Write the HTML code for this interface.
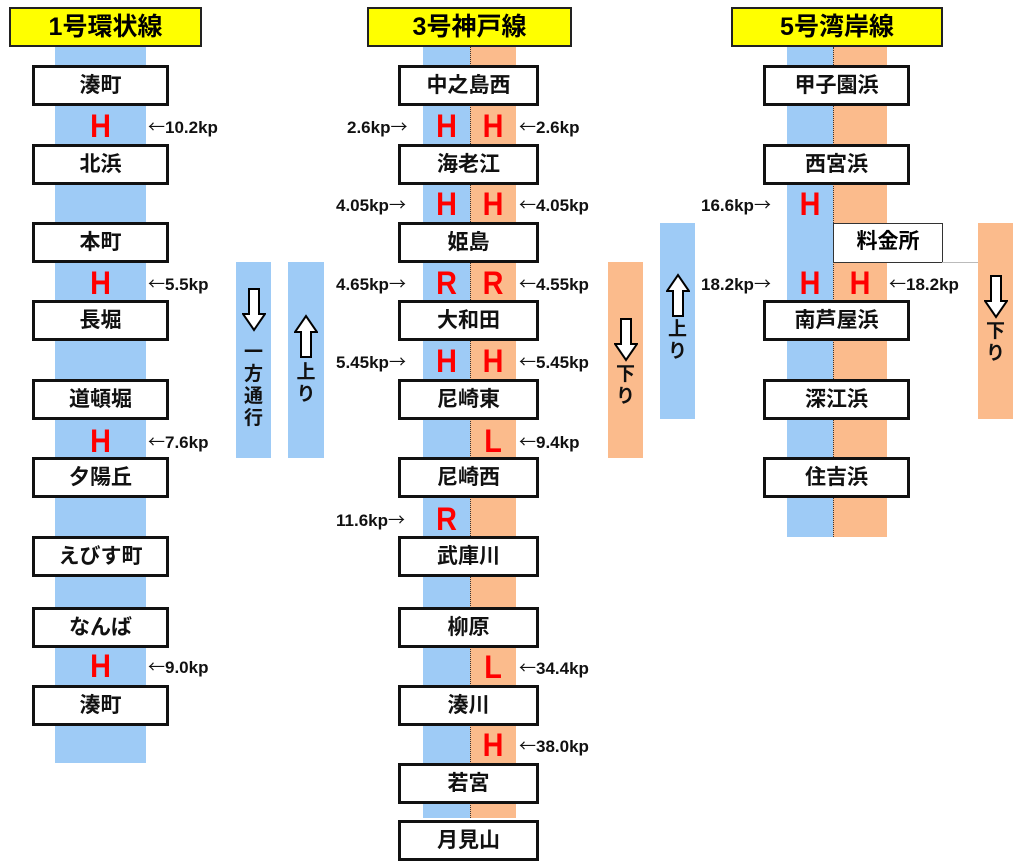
<!DOCTYPE html>
<html><head><meta charset="utf-8"><style>
body{margin:0;width:1023px;height:868px;background:#fff;position:relative;overflow:hidden;font-family:"Liberation Sans","Noto Sans CJK JP",sans-serif;font-weight:bold}
div{position:absolute;box-sizing:border-box}
.t{background:#ffff00;border:2px solid #222;font-size:25px;text-align:center;line-height:36px;height:40px;top:7px}
.b{background:#9ecbf6}
.o{background:#fbbb8c}
.dl{border-left:1px dotted #333}
.s{background:#fff;border:3px solid #111;height:41px;font-size:21px;text-align:center;line-height:35px;color:#111}
.h{color:#f00;font-size:32px;line-height:30px;text-align:center;font-family:"Liberation Sans",sans-serif;font-weight:bold;transform:scaleX(0.9)}
.k{font-size:17px;line-height:16px;color:#111;white-space:nowrap}
.k i{font-style:normal;font-family:"Noto Sans CJK JP",sans-serif;font-weight:normal}
.v{font-size:19px;text-align:center;line-height:22px;color:#111}
</style></head><body>
<!-- line 1 -->
<div class="t" style="left:9px;width:193px">1号環状線</div>
<div class="b" style="left:55px;width:91px;top:47px;height:716px"></div>
<div class="s" style="left:32px;width:137px;top:65px">湊町</div>
<div class="s" style="left:32px;width:137px;top:144px">北浜</div>
<div class="s" style="left:32px;width:137px;top:222px">本町</div>
<div class="s" style="left:32px;width:137px;top:300px">長堀</div>
<div class="s" style="left:32px;width:137px;top:379px">道頓堀</div>
<div class="s" style="left:32px;width:137px;top:457px">夕陽丘</div>
<div class="s" style="left:32px;width:137px;top:536px">えびす町</div>
<div class="s" style="left:32px;width:137px;top:607px">なんば</div>
<div class="s" style="left:32px;width:137px;top:685px">湊町</div>
<div class="h" style="left:55px;width:91px;top:111px">H</div>
<div class="h" style="left:55px;width:91px;top:268px">H</div>
<div class="h" style="left:55px;width:91px;top:426px">H</div>
<div class="h" style="left:55px;width:91px;top:651px">H</div>
<div class="k" style="left:148px;top:118px"><i>←</i>10.2kp</div>
<div class="k" style="left:148px;top:275px"><i>←</i>5.5kp</div>
<div class="k" style="left:148px;top:433px"><i>←</i>7.6kp</div>
<div class="k" style="left:148px;top:658px"><i>←</i>9.0kp</div>
<div class="b" style="left:236px;width:35px;top:262px;height:196px">
<svg style="position:absolute;left:6px;top:26px" width="24" height="44" viewBox="0 0 24 44"><path d="M7 1H17V26H23L12 42L1 26H7Z" fill="#fff" stroke="#000" stroke-width="2"/></svg>
<div class="v" style="left:0;width:35px;top:80px">一<br>方<br>通<br>行</div></div>
<div class="b" style="left:288px;width:36px;top:262px;height:196px">
<svg style="position:absolute;left:6px;top:52px" width="24" height="44" viewBox="0 0 24 44"><path d="M7 43H17V18H23L12 2L1 18H7Z" fill="#fff" stroke="#000" stroke-width="2"/></svg>
<div class="v" style="left:0;width:36px;top:100px">上<br>り</div></div>

<!-- line 3 -->
<div class="t" style="left:367px;width:205px">3号神戸線</div>
<div class="b" style="left:423px;width:47px;top:47px;height:771px"></div>
<div class="o dl" style="left:470px;width:46px;top:47px;height:771px"></div>
<div class="s" style="left:398px;width:141px;top:65px">中之島西</div>
<div class="s" style="left:398px;width:141px;top:144px">海老江</div>
<div class="s" style="left:398px;width:141px;top:222px">姫島</div>
<div class="s" style="left:398px;width:141px;top:300px">大和田</div>
<div class="s" style="left:398px;width:141px;top:379px">尼崎東</div>
<div class="s" style="left:398px;width:141px;top:457px">尼崎西</div>
<div class="s" style="left:398px;width:141px;top:536px">武庫川</div>
<div class="s" style="left:398px;width:141px;top:607px">柳原</div>
<div class="s" style="left:398px;width:141px;top:685px">湊川</div>
<div class="s" style="left:398px;width:141px;top:763px">若宮</div>
<div class="s" style="left:398px;width:141px;top:820px">月見山</div>
<div class="h" style="left:423px;width:47px;top:111px">H</div><div class="h" style="left:470px;width:46px;top:111px">H</div>
<div class="h" style="left:423px;width:47px;top:189px">H</div><div class="h" style="left:470px;width:46px;top:189px">H</div>
<div class="h" style="left:423px;width:47px;top:268px">R</div><div class="h" style="left:470px;width:46px;top:268px">R</div>
<div class="h" style="left:423px;width:47px;top:346px">H</div><div class="h" style="left:470px;width:46px;top:346px">H</div>
<div class="h" style="left:470px;width:46px;top:426px">L</div>
<div class="h" style="left:423px;width:47px;top:504px">R</div>
<div class="h" style="left:470px;width:46px;top:652px">L</div>
<div class="h" style="left:470px;width:46px;top:730px">H</div>
<div class="k" style="left:347px;top:118px">2.6kp<i>→</i></div><div class="k" style="left:519px;top:118px"><i>←</i>2.6kp</div>
<div class="k" style="left:336px;top:196px">4.05kp<i>→</i></div><div class="k" style="left:519px;top:196px"><i>←</i>4.05kp</div>
<div class="k" style="left:336px;top:275px">4.65kp<i>→</i></div><div class="k" style="left:519px;top:275px"><i>←</i>4.55kp</div>
<div class="k" style="left:336px;top:353px">5.45kp<i>→</i></div><div class="k" style="left:519px;top:353px"><i>←</i>5.45kp</div>
<div class="k" style="left:519px;top:433px"><i>←</i>9.4kp</div>
<div class="k" style="left:336px;top:511px">11.6kp<i>→</i></div>
<div class="k" style="left:519px;top:659px"><i>←</i>34.4kp</div>
<div class="k" style="left:519px;top:737px"><i>←</i>38.0kp</div>
<div class="o" style="left:608px;width:35px;top:262px;height:196px">
<svg style="position:absolute;left:6px;top:56px" width="24" height="44" viewBox="0 0 24 44"><path d="M7 1H17V26H23L12 42L1 26H7Z" fill="#fff" stroke="#000" stroke-width="2"/></svg>
<div class="v" style="left:0;width:35px;top:102px">下<br>り</div></div>
<div class="b" style="left:660px;width:35px;top:223px;height:196px">
<svg style="position:absolute;left:6px;top:50px" width="24" height="44" viewBox="0 0 24 44"><path d="M7 43H17V18H23L12 2L1 18H7Z" fill="#fff" stroke="#000" stroke-width="2"/></svg>
<div class="v" style="left:0;width:35px;top:96px">上<br>り</div></div>

<!-- line 5 -->
<div class="t" style="left:731px;width:212px">5号湾岸線</div>
<div class="b" style="left:787px;width:46px;top:47px;height:490px"></div>
<div class="o dl" style="left:833px;width:54px;top:47px;height:490px"></div>
<div class="s" style="left:763px;width:147px;top:65px">甲子園浜</div>
<div class="s" style="left:763px;width:147px;top:144px">西宮浜</div>
<div class="s" style="left:763px;width:147px;top:300px">南芦屋浜</div>
<div class="s" style="left:763px;width:147px;top:379px">深江浜</div>
<div class="s" style="left:763px;width:147px;top:457px">住吉浜</div>
<div style="left:833px;width:110px;top:223px;height:40px;background:#fff;border:1px solid #333;font-size:21px;line-height:36px;text-align:center">料金所</div>
<div style="left:942px;width:36px;top:262px;height:1px;background:#bbb"></div>
<div class="h" style="left:787px;width:46px;top:189px">H</div>
<div class="h" style="left:787px;width:46px;top:268px">H</div><div class="h" style="left:833px;width:54px;top:268px">H</div>
<div class="k" style="left:701px;top:196px">16.6kp<i>→</i></div>
<div class="k" style="left:701px;top:275px">18.2kp<i>→</i></div>
<div class="k" style="left:889px;top:275px"><i>←</i>18.2kp</div>
<div class="o" style="left:978px;width:35px;top:223px;height:196px">
<svg style="position:absolute;left:6px;top:52px" width="24" height="44" viewBox="0 0 24 44"><path d="M7 1H17V26H23L12 42L1 26H7Z" fill="#fff" stroke="#000" stroke-width="2"/></svg>
<div class="v" style="left:0;width:35px;top:98px">下<br>り</div></div>
</body></html>
